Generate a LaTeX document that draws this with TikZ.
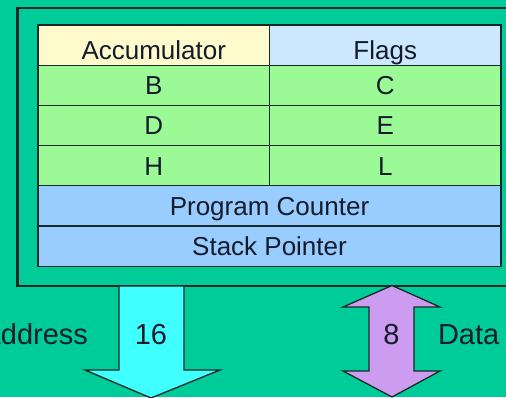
\documentclass[tikz,border=0pt]{standalone}
\usepackage{fontspec}
\setmainfont{Liberation Sans}

\definecolor{bg}{RGB}{0,204,153}
\definecolor{edge}{RGB}{22,40,40}
\definecolor{ink}{RGB}{20,28,44}
\definecolor{accfill}{RGB}{255,250,204}
\definecolor{flagfill}{RGB}{204,232,255}
\definecolor{regfill}{RGB}{156,250,150}
\definecolor{ptrfill}{RGB}{153,204,255}
\definecolor{addrfill}{RGB}{64,255,255}
\definecolor{datafill}{RGB}{204,156,240}

\begin{document}
\begin{tikzpicture}[x=1pt,y=-1pt,
  cell/.style={draw=edge, line width=1.2pt, inner sep=0pt, outer sep=0pt,
    minimum height=40.2pt, anchor=north west, text=ink,
    font=\fontsize{26}{30}\selectfont, text height=18.7pt, text depth=0pt},
  half/.style={cell, minimum width=231.5pt},
  full/.style={cell, minimum width=463pt},
  lbl/.style={inner sep=0pt, outer sep=0pt, text=ink,
    font=\fontsize{29}{33}\selectfont, text height=20.8pt, text depth=0pt},
  bus/.style={draw=edge, line width=1.3pt, line join=miter}
]
\useasboundingbox (0,0) rectangle (506,397);
\clip (0,0) rectangle (506,397);
\fill[bg] (0,0) rectangle (506,397);

% CPU outline
\draw[edge, line width=2.2pt] (17.5,8) rectangle (520,286);

% register file
\node[half, fill=accfill]  (acc)   at (38,25)     {\raisebox{-5pt}{Accumulator}};
\node[half, fill=flagfill] (flags) at (269.5,25)  {\raisebox{-5pt}{Flags}};
\node[half, fill=regfill]  (rb)    at (38,65.2)   {B};
\node[half, fill=regfill]  (rc)    at (269.5,65.2){C};
\node[half, fill=regfill]  (rd)    at (38,105.4)  {D};
\node[half, fill=regfill]  (re)    at (269.5,105.4){E};
\node[half, fill=regfill]  (rh)    at (38,145.6)  {H};
\node[half, fill=regfill]  (rl)    at (269.5,145.6){L};
\node[full, fill=ptrfill]  (pc)    at (38,185.8)  {Program Counter};
\node[full, fill=ptrfill]  (sp)    at (38,226)    {Stack Pointer};

% address bus (outgoing)
\filldraw[bus, fill=addrfill]
  (119,286) -- (184,286) -- (184,370) -- (220,370) -- (151,398)
  -- (85,370) -- (119,370) -- cycle;
% data bus (bidirectional)
\filldraw[bus, fill=datafill]
  (392,285.5) -- (440,307) -- (414,307) -- (414,371) -- (440,371)
  -- (392,397) -- (343,371) -- (369,371) -- (369,307) -- (343,307) -- cycle;

\node[lbl] (w16) at (151,334) {16};
\node[lbl, anchor=east] (addr) at (88,334) {Address};
\node[lbl] (w8) at (391.5,334) {8};
\node[lbl, anchor=west] (data) at (438,334) {Data};
\end{tikzpicture}
\end{document}
